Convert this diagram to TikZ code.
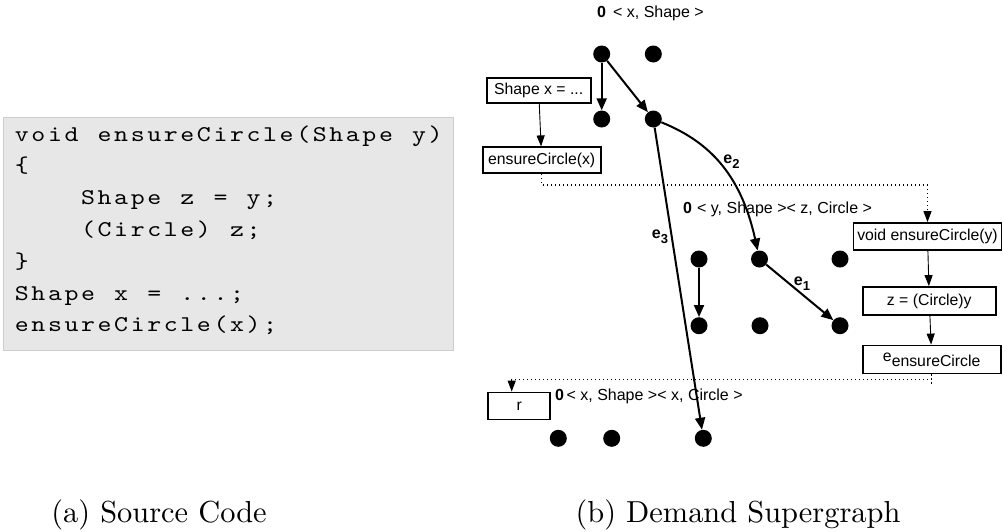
\documentclass[tikz,border=0pt]{standalone}
\usepackage{graphicx}
\usepackage{fontspec}
\setsansfont{Liberation Sans}
\newfontfamily\codefont{lmmono10-regular}[Extension=.otf]
\newfontfamily\capfont{lmroman10-regular}[Extension=.otf]
\usetikzlibrary{arrows.meta}

% monospaced listing with wide, fixed character cells
\newcommand\spacedline[1]{\spacedloop#1\relax}
\def\spacedloop#1{\ifx#1\relax\else\makebox[16.55pt][c]{\scalebox{1.18}[1]{#1}}\expandafter\spacedloop\fi}

\definecolor{codebg}{HTML}{E7E7E7}
\definecolor{codeframe}{HTML}{CDCDCD}

\tikzset{
  dot/.style={circle, fill=black, inner sep=0pt, minimum size=17pt},
  edge/.style={line width=2pt, -{Triangle[length=12pt,width=10pt]}},
  flow/.style={line width=0.9pt, -{Triangle[length=11pt,width=8pt]}},
  dotline/.style={line width=1.1pt, dash pattern=on 1.2pt off 2.8pt},
  stmt/.style={draw, line width=1.8pt, inner sep=0pt, font=\sffamily\fontsize{15.8}{18}\selectfont},
  lbl/.style={font=\sffamily\fontsize{16}{18}\selectfont, inner sep=0pt, anchor=base west},
  elbl/.style={font=\sffamily\bfseries\fontsize{16}{18}\selectfont, inner sep=0pt},
  codeline/.style={font=\codefont\fontsize{22.5}{28}\selectfont, inner sep=0pt, anchor=base west},
  caption/.style={font=\capfont\fontsize{30.4}{34}\selectfont, inner sep=0pt, anchor=base}
}
\newcommand\esub[1]{e\raisebox{-5pt}{\fontsize{13}{14}\selectfont #1}}

\begin{document}
\begin{tikzpicture}[x=1pt, y=-1pt]
\useasboundingbox (0,0) rectangle (1003,531);

% ---- source code listing ----
\path[fill=codebg, draw=codeframe, line width=1pt] (3,117) rectangle (453,350);
\node[codeline] (c1) at (13.4,141.0) {\spacedline{void~ensureCircle(Shape~y)}};
\node[codeline] (c2) at (13.4,172.8) {\spacedline{\{}};
\node[codeline] (c3) at (13.4,204.6) {\spacedline{~~~~Shape~z~=~y;}};
\node[codeline] (c4) at (13.4,236.4) {\spacedline{~~~~(Circle)~z;}};
\node[codeline] (c5) at (13.4,268.2) {\spacedline{\}}};
\node[codeline] (c6) at (13.4,300.0) {\spacedline{Shape~x~=~...;}};
\node[codeline] (c7) at (13.4,331.8) {\spacedline{ensureCircle(x);}};

% ---- statement boxes ----
\node[stmt, minimum width=104pt, minimum height=25pt] (sx)  at (538.7,90.8)  {Shape x = ...};
\node[stmt, minimum width=118pt, minimum height=26pt] (ecx) at (541.7,160.3) {ensureCircle(x)};
\node[stmt, minimum width=148pt, minimum height=27pt] (ecy) at (927.5,236.5) {void ensureCircle(y)};
\node[stmt, minimum width=133pt, minimum height=28pt] (zc)  at (929.3,301.0) {z = (Circle)y};
\node[stmt, minimum width=138pt, minimum height=28pt] (ee)  at (931.7,359.5) {e\raisebox{-5pt}{ensureCircle}};
\node[stmt, minimum width=62pt,  minimum height=27pt] (r)   at (519.2,406.0) {r};

\draw[flow] (sx) -- (ecx);
\draw[flow] (ecy) -- (zc);
\draw[flow] (zc) -- (ee);

% ---- call and return edges ----
\coordinate (h1) at (0,185);
\coordinate (h2) at (511.7,379.3);
\coordinate (h3) at (0,385);
\draw[dotline] (ecx.south) -- (ecx.south |- h1) -- (ecy.north |- h1);
\draw[dotline, -{Triangle[length=11pt,width=8pt]}] (ecy.north |- h1) -- (ecy.north);
\draw[dotline] (ee.south) -- (ee.south |- h3);
\draw[dotline] (ee.south |- h2) -- (h2);
\draw[dotline, -{Triangle[length=11pt,width=8pt]}] (h2) -- (h2 |- r.north);

% ---- fact labels ----
\node[lbl] (l1) at (597,17.3)  {\textbf{0}\hspace{7pt}< x, Shape >};
\node[lbl] (l2) at (683,213.3) {\textbf{0}\hspace{5pt}< y, Shape >< z, Circle >};
\node[lbl] (l3) at (555,400)   {\textbf{0}\hspace{2.5pt}< x, Shape >< x, Circle >};

% ---- exploded nodes ----
\node[dot] (a1) at (601.7,54) {};
\node[dot] (a2) at (653.3,54) {};
\node[dot] (b1) at (601.7,119) {};
\node[dot] (b2) at (653.3,119) {};
\node[dot] (m1) at (699,259) {};
\node[dot] (m2) at (759.5,259) {};
\node[dot] (m3) at (840,259) {};
\node[dot] (n1) at (699,325.7) {};
\node[dot] (n2) at (760,325.7) {};
\node[dot] (n3) at (840,325.7) {};
\node[dot] (r1) at (558.3,438.3) {};
\node[dot] (r2) at (611.7,438.3) {};
\node[dot] (r3) at (703.3,438.3) {};

\draw[edge] (a1) -- (b1);
\draw[edge] (a1) -- (b2);
\draw[edge] (b2) .. controls (705,140) and (740,170) .. (m2);
\draw[edge] (b2) -- (r3);
\draw[edge] (m1) -- (n1);
\draw[edge] (m2) -- (n3);

\node[elbl] (e2) at (731.5,162) {\esub{2}};
\node[elbl] (e3) at (660,237) {\esub{3}};
\node[elbl] (e1) at (802,283.5) {\esub{1}};

% ---- captions ----
\node[caption] (capa) at (159,522.5) {(a) Source Code};
\node[caption] (capb) at (738,522.5) {(b) Demand Supergraph};
\end{tikzpicture}
\end{document}
